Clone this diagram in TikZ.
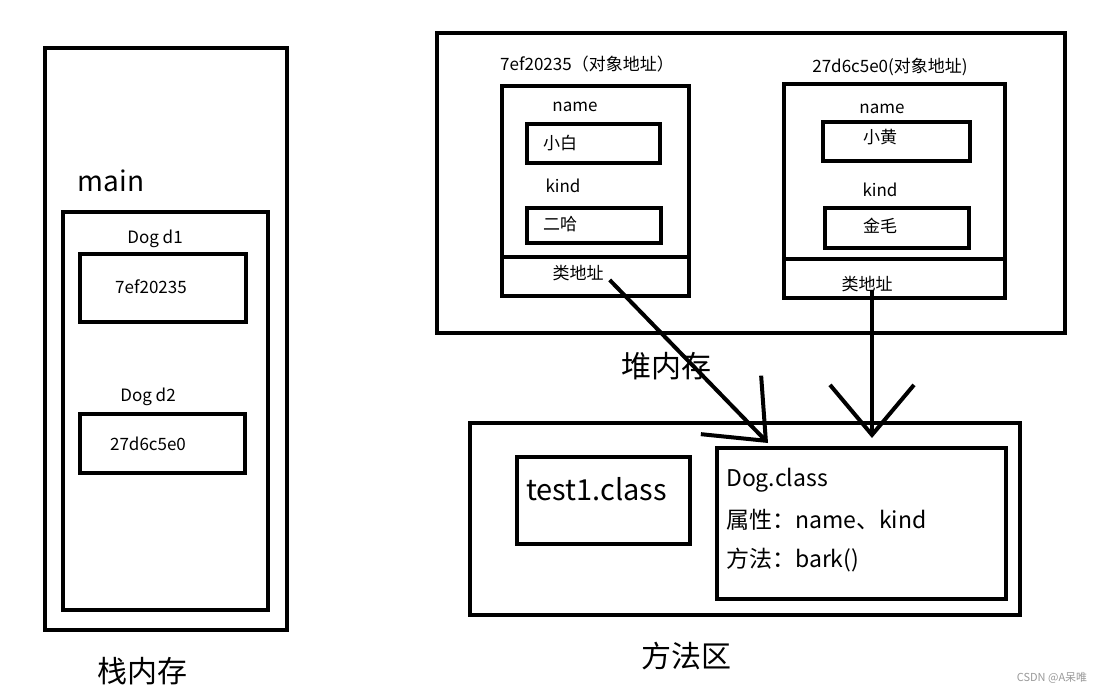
\documentclass[tikz,border=0pt]{standalone}
\usepackage{fontspec}
\setmainfont{Noto Sans CJK SC}
\usepackage{tikz}
\usetikzlibrary{arrows.meta, positioning, calc}
\definecolor{mark}{HTML}{9a9a9a}

\begin{document}
\begin{tikzpicture}[x=1pt, y=-1pt,
    box/.style={draw, line width=4pt, inner sep=0pt},
    small/.style={inner sep=0pt, font=\fontsize{17}{20}\selectfont},
    mid/.style={inner sep=0pt, font=\fontsize{23}{28}\selectfont},
    big/.style={inner sep=0pt, font=\fontsize{30}{36}\selectfont},
    link/.style={line width=4pt, -{Straight Barb[length=50pt, width=84pt, line width=4pt]}}]
    \useasboundingbox[fill=white] (0,0) rectangle (1103,695);

    % stack
    \node[box, minimum width=242, minimum height=582] (stack) at (166,339) {};
    \node[box, minimum width=205, minimum height=398] (mainfr) at (165.5,411) {};
    \node[box, minimum width=166, minimum height=68] (d1) at (163,288) {};
    \node[box, minimum width=165, minimum height=59] (d2) at (162.5,443.5) {};
    \node[mid, font=\fontsize{28}{34}\selectfont] (mainlbl) at (111,181) {main};
    \node[small] (d1lbl) at (155,239) {Dog d1};
    \node[small] (d2lbl) at (148,397) {Dog d2};
    \node[small] (d1val) at (151,287) {7ef20235};
    \node[small] (d2val) at (148,444) {27d6c5e0};
    \node[big] (stacklbl) at (142,671) {栈内存};

    % heap
    \node[box, minimum width=628, minimum height=300] (heap) at (751,183) {};
    \foreach \n/\cx/\w/\h/\dy in {obj1/595.5/187/210/257, obj2/894.5/221/214/259} {
      \node[box, minimum width=\w, minimum height=\h] (\n) at (\cx,191) {};
      \draw[line width=4pt] (\n.west |- 0,\dy) -- (\n.east |- 0,\dy);
    }
    \node[box, minimum width=133, minimum height=39] (name1) at (593.5,143.5) {};
    \node[box, minimum width=134, minimum height=35] (kind1) at (594,225.5) {};
    \node[box, minimum width=147, minimum height=39] (name2) at (896.5,141.5) {};
    \node[box, minimum width=144, minimum height=40] (kind2) at (897,228) {};
    \node[small] (obj1lbl) at (587,64) {7ef20235（对象地址）};
    \node[small] (obj2lbl) at (890,67) {27d6c5e0(对象地址)};
    \foreach \x/\y/\t in {575/107/name, 563/186/kind, 882/109/name, 880/190/kind,
        560/143/小白, 560/224/二哈, 880/137/小黄, 880/226/金毛} {
      \node[small] at (\x,\y) {\t};
    }
    \node[small] (addr1) at (578,273) {类地址};
    \node[small] (addr2) at (867,284) {类地址};
    \node[big] (heaplbl) at (666,366) {堆内存};

    % method area
    \node[box, minimum width=550, minimum height=192] (meth) at (745,519) {};
    \node[box, minimum width=173, minimum height=87] (test1) at (603.5,500.5) {};
    \node[box, minimum width=289, minimum height=151] (dogcls) at (861.5,523.5) {};
    \node[mid, font=\fontsize{29}{34}\selectfont, anchor=west] (test1lbl) at (526,489) {test1.class};
    \node[mid, anchor=west] (clsname) at (726,480) {Dog.class};
    \node[mid, anchor=west] (clsattr) at (726,520) {属性：name、kind};
    \node[mid, anchor=west] (clsfunc) at (726,560) {方法：bark()};
    \node[big] (methlbl) at (686,656) {方法区};

    % pointers to the class
    \coordinate (tip1) at (768,443);
    \coordinate (tip2) at (872,438);
    \draw[link] ([shift={(6,7)}]addr1.east) -- (tip1);
    \draw[link] ([shift={(5,-2)}]addr2.south) -- (tip2);

    \node[inner sep=0pt, font=\fontsize{11}{13}\selectfont, text=mark] (wm) at (1052,678) {CSDN @A呆唯};
  \end{tikzpicture}
\end{document}
